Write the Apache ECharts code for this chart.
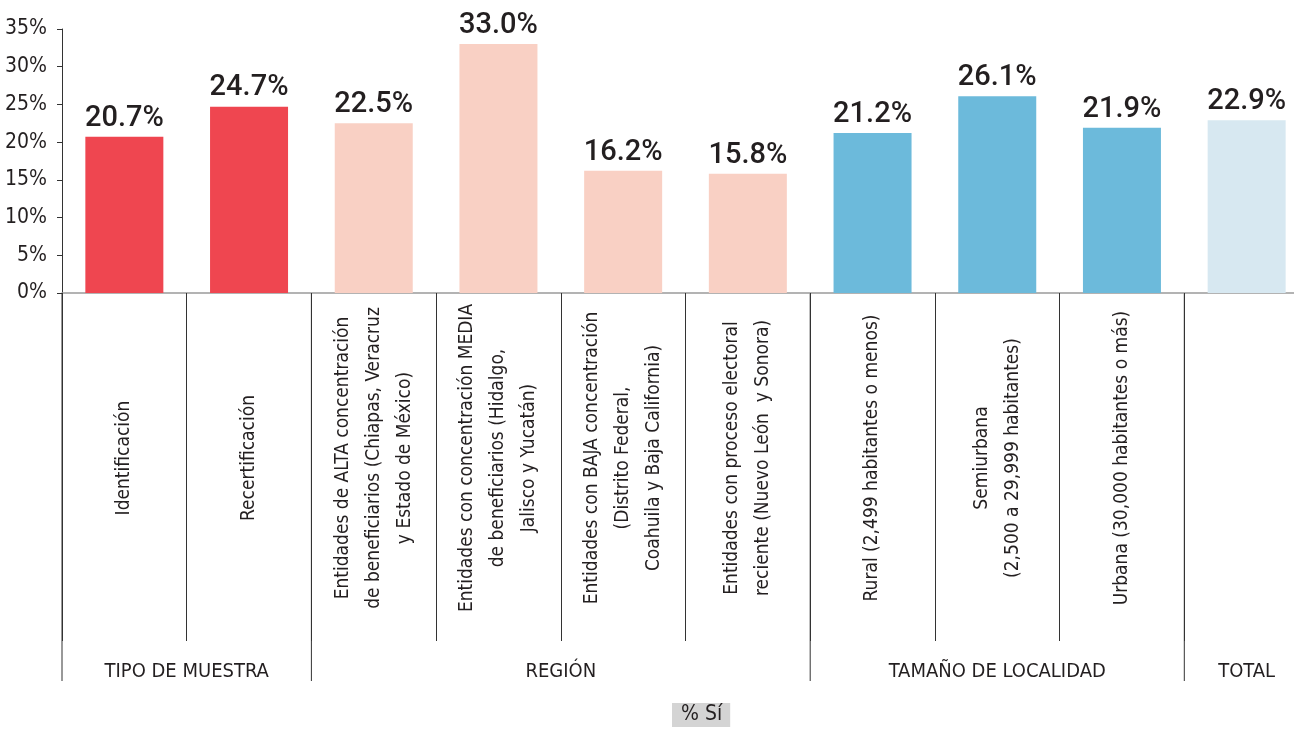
<!DOCTYPE html>
<html>
<head>
<meta charset="utf-8">
<script src="https://cdn.jsdelivr.net/npm/echarts@6/dist/echarts.min.js"></script>
<style>
  html, body { margin: 0; padding: 0; background: #fff; overflow: hidden; }
  /* el gráfico original está recortado por la derecha */
  #chart { width: 1309px; height: 729px; }
</style>
</head>
<body>
<div id="chart"></div>
<script>
// datos
const categories = [
  "Identificación",
  "Recertificación",
  "Entidades de ALTA concentración\nde beneficiarios (Chiapas, Veracruz\ny Estado de México)",
  "Entidades con concentración MEDIA\nde beneficiarios (Hidalgo,\nJalisco y Yucatán)",
  "Entidades con BAJA concentración\n(Distrito Federal,\nCoahuila y Baja California)",
  "Entidades con proceso electoral\nreciente (Nuevo León  y Sonora)",
  "Rural (2,499 habitantes o menos)",
  "Semiurbana\n(2,500 a 29,999 habitantes)",
  "Urbana (30,000 habitantes o más)",
  "TOTAL "
];
const values = [20.7, 24.7, 22.5, 33.0, 16.2, 15.8, 21.2, 26.1, 21.9, 22.9];
const yTicks = [0, 5, 10, 15, 20, 25, 30, 35];
const groups = ["TIPO DE MUESTRA", "REGIÓN", "TAMAÑO DE LOCALIDAD", "TOTAL"];
const groupBounds = [0, 2, 6, 9, 10];
const seriesName = "% Sí";

// colores por barra
const barColors = ["#ef4650", "#ef4650", "#f9d0c4", "#f9d0c4", "#f9d0c4",
  "#f9d0c4", "#6cbadb", "#6cbadb", "#6cbadb", "#d7e8f1"];

const narrow = "'DejaVu Sans Condensed', sans-serif";
const ink = "#231f20";

const chart = echarts.init(document.getElementById("chart"));

const options = {
  animation: false,
  grid: { left: 62, top: 29, right: 0, bottom: 436, containLabel: false },
  legend: {
    data: [seriesName],
    left: 672,
    top: 703,
    icon: "rect",
    itemWidth: 0,
    itemHeight: 0,
    padding: [1, 8, 2, 4],
    backgroundColor: "#d4d4d4",
    textStyle: { fontFamily: narrow, fontSize: 21, color: ink }
  },
  xAxis: {
    type: "category",
    data: categories,
    axisLine: { lineStyle: { color: "#9a9a9a", width: 1.5 } },
    axisTick: { show: true, length: 348, lineStyle: { color: "#333", width: 1 } },
    axisLabel: {
      interval: 0,
      rotate: 90,
      margin: 165,
      align: "center",
      verticalAlign: "middle",
      fontFamily: narrow,
      fontSize: 19,
      lineHeight: 31,
      color: ink,
      formatter: (v) => (v === "TOTAL " ? "" : v)
    }
  },
  yAxis: {
    type: "value",
    min: 0,
    max: 35,
    interval: 5,
    splitLine: { show: false },
    axisLine: { show: true, lineStyle: { color: "#333", width: 1 } },
    axisTick: { show: true, length: 5, lineStyle: { color: "#333" } },
    axisLabel: {
      margin: 15,
      fontFamily: narrow,
      fontSize: 21,
      color: ink,
      formatter: (v) => (yTicks.includes(v) ? v + "%" : "")
    }
  },
  series: [
    {
      name: seriesName,
      type: "bar",
      barWidth: 78,
      itemStyle: { color: "#d4d4d4" },
      data: values.map((v, i) => ({ value: v, itemStyle: { color: barColors[i] } })),
      label: {
        show: true,
        position: "top",
        distance: 4,
        fontFamily: "Roboto, 'DejaVu Sans', sans-serif",
        fontWeight: 500,
        fontSize: 29,
        color: ink,
        formatter: (p) => p.value.toFixed(1) + "%"
      }
    }
  ]
};
options && chart.setOption(options);

// separadores de grupo y etiquetas de grupo
const xa = chart.convertToPixel({ xAxisIndex: 0 }, categories[0]);
const xb = chart.convertToPixel({ xAxisIndex: 0 }, categories[1]);
const band = xb - xa;
const y0 = chart.convertToPixel({ yAxisIndex: 0 }, 0);
const edge = (i) => xa + (i - 0.5) * band;

const graphics = [];
groupBounds.forEach((b) => {
  graphics.push({
    type: "line",
    shape: { x1: edge(b), y1: y0, x2: edge(b), y2: y0 + 388 },
    style: { stroke: "#333", lineWidth: 1 },
    silent: true
  });
});
groups.forEach((g, i) => {
  const cx = (edge(groupBounds[i]) + edge(groupBounds[i + 1])) / 2;
  graphics.push({
    type: "text",
    x: cx,
    y: y0 + 379,
    style: {
      text: g,
      fontFamily: narrow,
      fontSize: 20,
      fill: ink,
      align: "center",
      verticalAlign: "middle"
    },
    silent: true
  });
});
chart.setOption({ graphic: graphics });
</script>
</body>
</html>
